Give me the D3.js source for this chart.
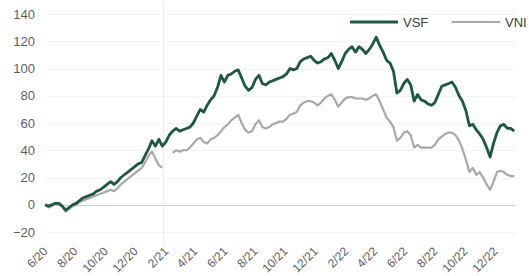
<!DOCTYPE html>
<html>
<head>
<meta charset="utf-8">
<script src="https://cdn.jsdelivr.net/npm/d3@7"></script>
<style>
  body { margin: 0; background: #fff; }
  .axis text { font-family: "Liberation Sans", Arial, sans-serif; font-size: 13px; fill: #5e5e5e; }
  .x-axis text { font-size: 12px; }
  .legend text { font-family: "Liberation Sans", Arial, sans-serif; font-size: 13px; fill: #3a3a3a; }
</style>
</head>
<body>
<div id="chart"></div>
<script>
// weekly closes, % change since June 2020
var weeks = [
  "2020-06-01","2020-06-08","2020-06-15","2020-06-22","2020-06-29","2020-07-06","2020-07-13","2020-07-20","2020-07-27",
  "2020-08-03","2020-08-10","2020-08-17","2020-08-24","2020-08-31","2020-09-07","2020-09-14","2020-09-21","2020-09-28",
  "2020-10-05","2020-10-12","2020-10-19","2020-10-26","2020-11-02","2020-11-09","2020-11-16","2020-11-23","2020-11-30",
  "2020-12-07","2020-12-14","2020-12-21","2020-12-28",
  "2021-01-04","2021-01-11","2021-01-18","2021-01-25","2021-02-01","2021-02-08","2021-02-15","2021-02-22",
  "2021-03-01","2021-03-08","2021-03-15","2021-03-22","2021-03-29","2021-04-05","2021-04-12","2021-04-19","2021-04-26",
  "2021-05-03","2021-05-10","2021-05-17","2021-05-24","2021-05-31","2021-06-07","2021-06-14","2021-06-21","2021-06-28",
  "2021-07-05","2021-07-12","2021-07-19","2021-07-26","2021-08-02","2021-08-09","2021-08-16","2021-08-23","2021-08-30",
  "2021-09-06","2021-09-13","2021-09-20","2021-09-27","2021-10-04","2021-10-11","2021-10-18","2021-10-25",
  "2021-11-01","2021-11-08","2021-11-15","2021-11-22","2021-11-29","2021-12-06","2021-12-13","2021-12-20","2021-12-27",
  "2022-01-03","2022-01-10","2022-01-17","2022-01-24","2022-01-31","2022-02-07","2022-02-14","2022-02-21","2022-02-28",
  "2022-03-07","2022-03-14","2022-03-21","2022-03-28","2022-04-04","2022-04-11","2022-04-18","2022-04-25",
  "2022-05-02","2022-05-09","2022-05-16","2022-05-23","2022-05-30","2022-06-06","2022-06-13","2022-06-20","2022-06-27",
  "2022-07-04","2022-07-11","2022-07-18","2022-07-25","2022-08-01","2022-08-08","2022-08-15","2022-08-22","2022-08-29",
  "2022-09-05","2022-09-12","2022-09-19","2022-09-26","2022-10-03","2022-10-10","2022-10-17","2022-10-24","2022-10-31",
  "2022-11-07","2022-11-14","2022-11-21","2022-11-28","2022-12-05","2022-12-12","2022-12-19","2022-12-26",
  "2023-01-02","2023-01-09"
];

var vsf = [
  0,-1,0,1,1,-1,-4,-2,0,
  1,3,5,6,7,8,10,11,13,
  15,17,15,17,20,22,24,26,28,
  30,31,36,41,
  47,43,48,43,46,51,54,56,
  54,55,56,57,60,65,70,68,73,
  77,80,86,95,90,95,96,98,99,
  93,87,84,86,92,95,89,88,90,
  91,92,93,94,96,100,99,100,
  105,107,108,109,106,104,105,107,108,
  111,106,100,105,111,114,116,112,116,
  114,111,114,118,123,117,112,106,
  104,98,82,84,89,92,88,76,81,
  77,76,74,73,75,81,87,88,89,
  90,86,80,76,69,58,59,55,52,
  48,42,35,45,53,58,59,56,
  56,54
];

var vni = [
  0,-2,-1,1,0,-1,-5,-3,-1,
  0,2,3,4,5,6,7,8,9,
  10,11,10,12,15,17,19,21,23,
  25,27,31,36,
  39,34,29,27,null,null,38,40,
  39,40,40,42,45,48,49,46,45,
  48,49,51,54,57,59,62,64,66,
  60,55,53,54,59,62,57,56,57,
  59,60,61,61,63,66,67,68,
  73,75,76,76,75,73,75,78,80,
  81,77,72,75,78,79,79,78,78,
  78,77,78,80,81,76,70,64,
  61,57,47,49,53,54,51,42,44,
  42,42,42,42,44,48,50,52,53,
  53,51,47,41,33,24,27,22,24,
  20,15,11,17,24,25,24,22,
  21,21
];

var seriesNames = ["VSF", "VNI"];
var seriesColors = ["#1d5840", "#a8a8a8"];
var yTicks = [-20, 0, 20, 40, 60, 80, 100, 120, 140];
var xTicks = ["2020-06-01","2020-08-01","2020-10-01","2020-12-01","2021-02-01","2021-04-01","2021-06-01","2021-08-01",
              "2021-10-01","2021-12-01","2022-02-01","2022-04-01","2022-06-01","2022-08-01","2022-10-01","2022-12-01"];

var width = 529, height = 276;
var parse = d3.timeParse("%Y-%m-%d");

var svg = d3.select("#chart").append("svg")
  .attr("width", width)
  .attr("height", height);

var x = d3.scaleTime()
  .domain([parse("2020-06-01"), parse("2022-12-01")])
  .range([45, 495]);

var y = d3.scaleLinear()
  .domain([-20, 140])
  .range([232, 14]);

// horizontal grid
svg.append("g")
  .selectAll("line")
  .data(yTicks)
  .enter().append("line")
  .attr("x1", 45).attr("x2", 516)
  .attr("y1", d => Math.round(y(d)) + 0.5)
  .attr("y2", d => Math.round(y(d)) + 0.5)
  .attr("stroke", d => d == 0 ? "#cfcfcf" : "#f3f3f3")
  .attr("stroke-width", 1);

// faint vertical line near 2/21
svg.append("line")
  .attr("x1", 163.5).attr("x2", 163.5)
  .attr("y1", 2).attr("y2", 245)
  .attr("stroke", "#ececec");

var yAxis = d3.axisLeft(y)
  .tickValues(yTicks)
  .tickSize(0)
  .tickPadding(3);

svg.append("g")
  .attr("class", "axis y-axis")
  .attr("transform", "translate(38,0)")
  .call(yAxis)
  .call(g => g.select(".domain").remove());

var xAxis = d3.axisBottom(x)
  .tickValues(xTicks.map(parse))
  .tickFormat(d3.timeFormat("%-m/%y"))
  .tickSize(0);

svg.append("g")
  .attr("class", "axis x-axis")
  .attr("transform", "translate(0,252)")
  .call(xAxis)
  .call(g => g.select(".domain").remove())
  .selectAll("text")
  .attr("x", 0).attr("y", 0).attr("dy", null)
  .attr("text-anchor", "end")
  .attr("transform", "translate(3,0) rotate(-45)");

var rows = weeks.map((w, i) => ({ date: parse(w), vsf: vsf[i], vni: vni[i] }));

var line = key => d3.line()
  .defined(d => d[key] != null)
  .x(d => x(d.date))
  .y(d => y(d[key]));

svg.append("path")
  .datum(rows)
  .attr("fill", "none")
  .attr("stroke", seriesColors[1])
  .attr("stroke-width", 2.2)
  .attr("stroke-linejoin", "round")
  .attr("d", line("vni"));

svg.append("path")
  .datum(rows)
  .attr("fill", "none")
  .attr("stroke", seriesColors[0])
  .attr("stroke-width", 2.8)
  .attr("stroke-linejoin", "round")
  .attr("d", line("vsf"));

// legend
var legend = svg.append("g").attr("class", "legend");
var legendX = [350, 452];
seriesNames.forEach((name, i) => {
  legend.append("line")
    .attr("x1", legendX[i]).attr("x2", legendX[i] + 48)
    .attr("y1", 22).attr("y2", 22)
    .attr("stroke", seriesColors[i])
    .attr("stroke-width", i == 0 ? 3 : 2);
  legend.append("text")
    .attr("x", legendX[i] + 53)
    .attr("y", 27)
    .text(name);
});
</script>
</body>
</html>
